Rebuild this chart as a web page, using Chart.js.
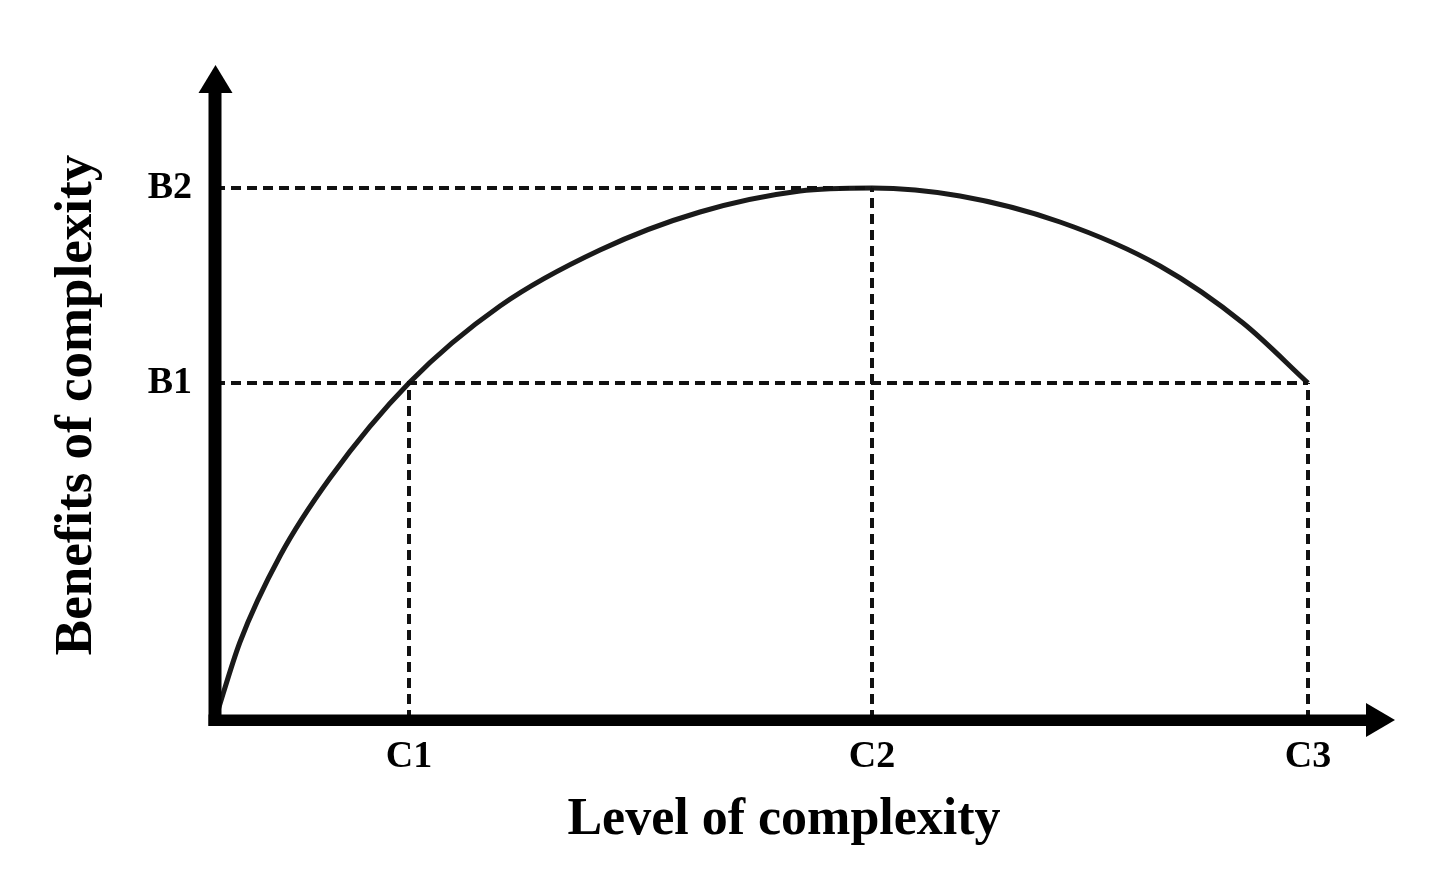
<!DOCTYPE html>
<html>
<head>
<meta charset="utf-8">
<script src="https://cdn.jsdelivr.net/npm/chart.js@4/dist/chart.umd.min.js"></script>
<style>
  html, body { margin: 0; padding: 0; background: #ffffff; }
  #wrap { width: 1456px; height: 880px; }
</style>
</head>
<body>
<div id="wrap"><canvas id="c" width="1456" height="880"></canvas></div>
<script>
// ---- data ----
const CURVE_X = [0, 0.25, 0.65, 1.15, 1.94, 2.85, 3.85, 4.85, 5.85, 6.57, 7.45, 8.45, 9.45, 10.28, 10.93];
const CURVE_Y = [0, 0.78, 1.64, 2.42, 3.37, 4.14, 4.70, 5.08, 5.29, 5.32, 5.24, 4.98, 4.54, 3.97, 3.37];

const X_TICK_VALUES = [1.94, 6.57, 10.93];
const X_TICK_LABELS = ['C1', 'C2', 'C3'];
const Y_TICK_VALUES = [3.37, 5.32];
const Y_TICK_LABELS = ['B1', 'B2'];

const X_MAX = 11.38, Y_MAX = 6.30;
const X_ARROW = 11.80, Y_ARROW = 6.55;

const X_TITLE = 'Level of complexity';
const Y_TITLE = 'Benefits of complexity';

// guide lines built from tick values
const [C1, C2, C3] = X_TICK_VALUES;
const [B1, B2] = Y_TICK_VALUES;
const GUIDES = [
  [{x: 0, y: B2}, {x: C2, y: B2}],
  [{x: 0, y: B1}, {x: C3, y: B1}],
  [{x: C1, y: 0}, {x: C1, y: B1}],
  [{x: C2, y: 0}, {x: C2, y: B2}],
  [{x: C3, y: 0}, {x: C3, y: B1}]
];

const FONT = '"Liberation Serif", "Times New Roman", serif';

const axesPlugin = {
  id: 'arrowAxes',
  afterDatasetsDraw(chart) {
    const {ctx, scales: {x, y}} = chart;
    const ox = x.getPixelForValue(0), oy = y.getPixelForValue(0);
    const tipX = x.getPixelForValue(X_ARROW), tipY = y.getPixelForValue(Y_ARROW);
    ctx.save();
    ctx.fillStyle = '#000';
    // shafts
    ctx.fillRect(ox - 6.5, tipY + 26, 13, (oy + 6) - (tipY + 26));
    ctx.fillRect(ox - 6.5, oy - 5.5, (tipX - 26) - (ox - 6.5), 11.5);
    // y arrow head
    ctx.beginPath();
    ctx.moveTo(ox + 0.5, tipY);
    ctx.lineTo(ox - 16.5, tipY + 28);
    ctx.lineTo(ox + 17.5, tipY + 28);
    ctx.closePath();
    ctx.fill();
    // x arrow head
    ctx.beginPath();
    ctx.moveTo(tipX, oy);
    ctx.lineTo(tipX - 29, oy - 17);
    ctx.lineTo(tipX - 29, oy + 17);
    ctx.closePath();
    ctx.fill();
    ctx.restore();
  }
};

const datasets = GUIDES.map(g => ({
  data: g,
  borderColor: '#111',
  borderWidth: 4,
  borderDash: [10, 6],
  pointRadius: 0,
  fill: false
}));
datasets.push({
  data: CURVE_X.map((v, i) => ({x: v, y: CURVE_Y[i]})),
  borderColor: '#1a1a1a',
  borderWidth: 5,
  pointRadius: 0,
  cubicInterpolationMode: 'monotone',
  fill: false
});

new Chart(document.getElementById('c'), {
  type: 'line',
  data: { datasets },
  plugins: [axesPlugin],
  options: {
    responsive: false,
    animation: false,
    events: [],
    layout: { padding: { left: 0, right: 103, top: 90, bottom: 0 } },
    plugins: { legend: { display: false }, tooltip: { enabled: false } },
    scales: {
      x: {
        type: 'linear',
        min: 0, max: X_MAX,
        border: { display: false },
        grid: { display: false, drawTicks: false },
        afterBuildTicks: s => { s.ticks = X_TICK_VALUES.map(v => ({value: v})); },
        afterFit: s => { s.height = 160; },
        ticks: {
          autoSkip: false, maxRotation: 0, padding: 14,
          color: '#000',
          font: { family: FONT, size: 38, weight: 'bold' },
          callback: (v, i) => X_TICK_LABELS[i]
        },
        title: {
          display: true, text: X_TITLE, color: '#000',
          font: { family: FONT, size: 52, weight: 'bold' },
          padding: { top: 0, bottom: 28 }
        }
      },
      y: {
        type: 'linear',
        min: 0, max: Y_MAX,
        border: { display: false },
        grid: { display: false, drawTicks: false },
        afterBuildTicks: s => { s.ticks = Y_TICK_VALUES.map(v => ({value: v})); },
        afterFit: s => { s.width = 215; },
        ticks: {
          autoSkip: false, padding: 23,
          color: '#000',
          font: { family: FONT, size: 38, weight: 'bold' },
          callback: (v, i) => Y_TICK_LABELS[i]
        },
        title: {
          display: true, text: Y_TITLE, color: '#000',
          font: { family: FONT, size: 53, weight: 'bold' },
          padding: { top: 46, bottom: 0 }
        }
      }
    }
  }
});
</script>
</body>
</html>
